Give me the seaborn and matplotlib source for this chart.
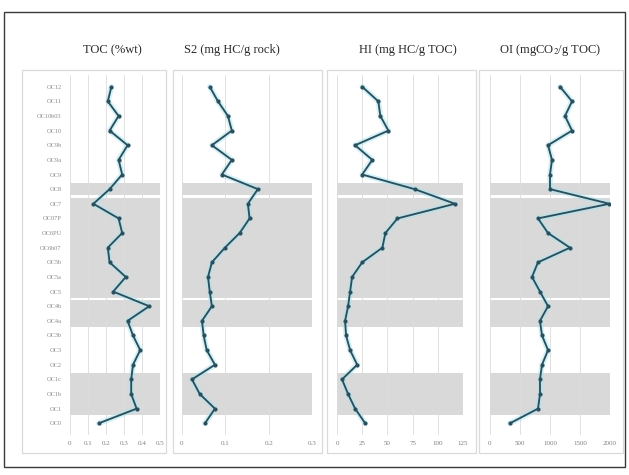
import matplotlib
matplotlib.use("Agg")
import matplotlib.pyplot as plt
import matplotlib.patches as mpatches
import numpy as np
import pandas as pd
import seaborn as sns

# Sample intervals, top of the section first
samples = ["OC12", "OC11", "OC10b03", "OC10", "OC9b", "OC9a", "OC9", "OC8", "OC7",
           "OC07P", "OC6PU", "OC6b07", "OC5b", "OC5a", "OC5", "OC4b", "OC4a",
           "OC3b", "OC3", "OC2", "OC1c", "OC1b", "OC1", "OC0"]

toc = [0.23, 0.21, 0.27, 0.22, 0.32, 0.27, 0.29, 0.22, 0.13, 0.27, 0.29, 0.21,
       0.22, 0.31, 0.24, 0.44, 0.32, 0.35, 0.39, 0.35, 0.34, 0.34, 0.37, 0.16]
s2 = [0.064, 0.083, 0.106, 0.115, 0.069, 0.115, 0.092, 0.175, 0.152, 0.156, 0.133, 0.099,
      0.069, 0.060, 0.064, 0.069, 0.046, 0.050, 0.057, 0.076, 0.023, 0.041, 0.076, 0.053]
hi = [25, 41, 43, 51, 18, 35, 25, 77, 117, 60, 48, 45,
      25, 15, 13, 11, 8, 9, 13, 20, 5, 11, 18, 28]
oi = [1167, 1367, 1250, 1367, 967, 1033, 1000, 1000, 1990, 800, 967, 1333,
      800, 700, 833, 967, 833, 867, 967, 867, 833, 833, 800, 333]

titles = ["TOC (%wt)", "S2 (mg HC/g rock)", "HI (mg HC/g TOC)", "OI (mgCO$_2$/g TOC)"]
x_ticks = [[0, 0.1, 0.2, 0.3, 0.4, 0.5],
           [0, 0.1, 0.2, 0.3],
           [0, 25, 50, 75, 100, 125],
           [0, 500, 1000, 1500, 2000]]
x_ticklabels = [["0", "0.1", "0.2", "0.3", "0.4", "0.5"],
                ["0", "0.1", "0.2", "0.3"],
                ["0", "25", "50", "75", "100", "125"],
                ["0", "500", "1000", "1500", "2000"]]

# Shaded intervals (first and last sample row of each)
shaded = [(7, 7), (8, 14), (15, 16), (20, 22)]

df = pd.DataFrame({"sample": samples, "row": np.arange(len(samples)),
                   "TOC": toc, "S2": s2, "HI": hi, "OI": oi})
cols = ["TOC", "S2", "HI", "OI"]

sns.set_theme(style="white")
plt.rcParams["font.family"] = ["Liberation Serif", "DejaVu Serif"]
plt.rcParams["mathtext.fontset"] = "stix"

W, H = 629, 475
fig = plt.figure(figsize=(W / 100, H / 100), dpi=100)
fig.patch.set_facecolor("white")


def fx(px):
    return px / W


def fy(py):
    return 1 - py / H


# Outer frame and the light panel boxes
fig.patches.append(mpatches.Rectangle((fx(4), fy(467)), fx(621), 455 / H, transform=fig.transFigure,
                                      fill=False, edgecolor="#3a3a3a", linewidth=1.0))
boxes = [(22, 166), (173, 322), (327, 476), (479, 623)]
for x0, x1 in boxes:
    fig.patches.append(mpatches.Rectangle((fx(x0), fy(453)), fx(x1 - x0), (453 - 70) / H,
                                          transform=fig.transFigure, fill=False,
                                          edgecolor="#dadada", linewidth=0.9))

# Plot areas: (left, right) pixel extents of each value axis
areas = [(70, 160), (182, 312), (337, 463), (490, 610)]
title_x = [112, 232, 408, 550]
top_px, bot_px = 75, 435
ylim = (len(samples) - 0.2, -0.8)

line_col = "#2c4f5e"
halo_col = "#a6e6f0"

for i, (col, (l, r)) in enumerate(zip(cols, areas)):
    ax = fig.add_axes([fx(l), fy(bot_px), fx(r - l), (bot_px - top_px) / H])
    ax.set_facecolor("none")
    for a, b in shaded:
        ax.axhspan(a - 0.42, b + 0.42, color="#d9d9d9", zorder=0, linewidth=0)
    sns.lineplot(data=df, x=col, y="row", orient="y", sort=False, ax=ax,
                 color=halo_col, linewidth=4.0, alpha=0.5, zorder=2)
    sns.lineplot(data=df, x=col, y="row", orient="y", sort=False, ax=ax,
                 color=line_col, linewidth=1.35, marker="o", markersize=3.0,
                 markeredgewidth=0, zorder=3)
    ax.set_xlim(x_ticks[i][0], x_ticks[i][-1])
    ax.set_ylim(*ylim)
    ax.set_xticks(x_ticks[i])
    ax.set_xticklabels(x_ticklabels[i])
    ax.xaxis.grid(True, color="#dcdcdc", linewidth=0.6, zorder=1)
    ax.yaxis.grid(False)
    ax.set_axisbelow(True)
    for s in ax.spines.values():
        s.set_visible(False)
    ax.tick_params(axis="x", length=0, pad=4, labelsize=5, labelcolor="#808080")
    ax.set_xlabel("")
    ax.set_ylabel("")
    if i == 0:
        ax.set_yticks(df["row"])
        ax.set_yticklabels(samples)
        ax.tick_params(axis="y", length=0, pad=6, labelsize=4.6, labelcolor="#8a8a8a")
    else:
        ax.set_yticks([])
    fig.text(fx(title_x[i]), fy(50), titles[i], ha="center", va="center",
             fontsize=9, color="#2a2a2a")

fig.savefig("out.png", dpi=100, facecolor="white")
